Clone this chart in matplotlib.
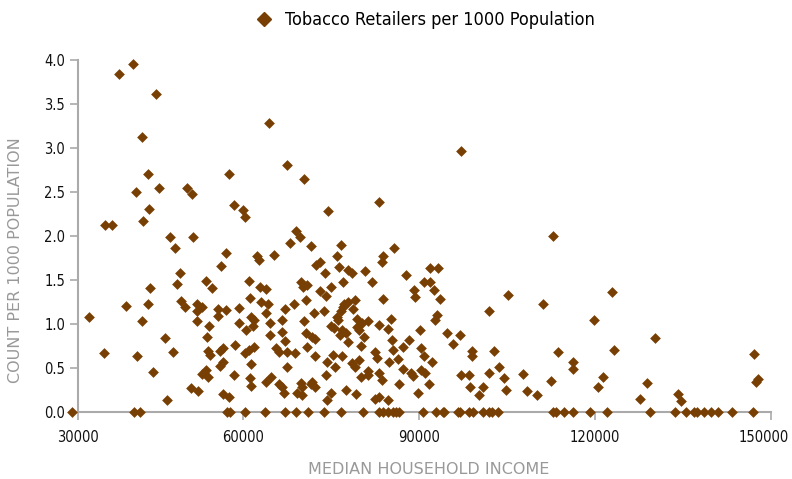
import matplotlib
matplotlib.use("Agg")
import matplotlib.pyplot as plt
from matplotlib.lines import Line2D
from matplotlib.transforms import ScaledTranslation

# median household income vs retailers per 1000
income = [38970, 41300, 45290, 42900, 43870, 57700, 64470, 67600, 41870, 45680,
          44090, 42950, 50580, 51380, 58490, 60100, 60370, 36580, 37720,
          47680, 51550, 48410, 57240, 49270, 48750, 56270, 53770, 54850, 61120,
          62370, 62830, 62930, 63900, 44210, 43920, 40160, 33890, 42780, 49560,
          50240, 52240, 53090, 52240, 52240, 54220, 53950, 55880, 57120, 55760,
          59340, 59340, 61220, 61340, 61910, 61800, 60490, 63050, 63900, 64640,
          46700, 36460, 48070, 41990, 44660, 47110, 51210, 52340, 54120, 54510,
          56100, 56680, 53780, 53090, 54050, 56220, 56680, 58780, 58490, 56680,
          57760, 60370, 61050, 61910, 61340, 61220, 61460, 63900, 64640, 64240,
          64760,
          70510, 74490, 83200, 97210, 69030, 69760, 68050, 71710, 76710, 76030,
          65390, 85710, 83830, 83660, 72560, 73180, 74030, 76420, 77960, 78710,
          80810, 77170, 81990, 87820, 69960, 70270, 71030, 73180, 75000, 74270,
          68810, 70780, 67270, 72150, 73860, 77170, 76710, 77960, 77280, 79160,
          78880, 76030, 76260, 75570, 75000, 77000, 77570, 76600, 78030, 79560,
          80300, 81270, 79840, 79450, 80700, 80130, 83150, 84790, 85250, 85430,
          70450, 70730, 71880, 72270, 71030, 66760, 66760, 67200, 65610, 66170,
          67490, 68910, 67490, 72320, 75470, 77000, 74320, 75740, 78710, 79160,
          79840, 82570, 82800, 85540, 86400, 84860, 87250, 88280, 90380, 90940,
          92260, 90150, 94770, 95790, 97090, 99040, 99040, 102800, 102040, 105190,
          92770, 93110, 93630, 92650, 91970, 90940, 91970, 93230, 89130, 89400,
          83940, 69880, 70170, 69320, 70170, 71590, 72320, 71880, 66170, 66760,
          67030, 74440, 75000, 74270, 77570, 79280, 80130, 81270, 81270, 82570,
          83250, 84790, 83250, 83710, 86670, 88670, 89060, 89820, 90380, 91110,
          91800, 97210, 98630, 98800, 100340, 100910, 102040, 103750, 104600, 104780,
          107750, 108430, 87250,
          112870, 122950, 119880, 130230, 113720, 123170, 116290, 116290, 112580, 121410,
          120560, 128800, 127670, 134100, 134670, 147040, 147430, 147710, 111080, 110200]

retailers = [3.84, 3.96, 3.62, 3.12, 2.70, 2.70, 3.28, 2.81, 2.50, 2.54,
             2.31, 2.17, 2.55, 2.48, 2.35, 2.29, 2.21, 2.12, 2.12,
             1.99, 1.99, 1.86, 1.80, 1.58, 1.45, 1.66, 1.49, 1.41, 1.49,
             1.77, 1.73, 1.42, 1.40, 1.41, 1.23, 1.20, 1.08, 1.03, 1.26,
             1.19, 1.23, 1.19, 1.14, 1.03, 0.97, 0.85, 1.17, 1.16, 1.09,
             1.18, 1.01, 1.29, 1.08, 1.04, 0.98, 0.93, 1.25, 1.12, 1.01,
             0.84, 0.67, 0.68, 0.63, 0.45, 0.13, 0.27, 0.23, 0.69, 0.64,
             0.69, 0.72, 0.47, 0.43, 0.40, 0.52, 0.57, 0.76, 0.42, 0.20,
             0.17, 0.67, 0.70, 0.74, 0.54, 0.38, 0.29, 0.34, 0.87, 1.23,
             0.39,
             2.65, 2.28, 2.39, 2.97, 2.06, 1.99, 1.92, 1.88, 1.90, 1.77,
             1.78, 1.86, 1.77, 1.70, 1.67, 1.70, 1.58, 1.65, 1.61, 1.58,
             1.60, 1.47, 1.47, 1.55, 1.48, 1.42, 1.44, 1.37, 1.42, 1.32,
             1.23, 1.27, 1.17, 1.12, 1.15, 1.19, 1.14, 1.25, 1.23, 1.27,
             1.17, 1.08, 1.04, 0.95, 0.98, 0.93, 0.89, 0.87, 0.79, 1.06,
             1.01, 1.03, 0.93, 0.96, 0.85, 0.75, 0.99, 0.94, 1.06, 0.82,
             1.03, 0.89, 0.85, 0.83, 0.74, 1.04, 0.91, 0.81, 0.72, 0.68,
             0.68, 0.67, 0.51, 0.63, 0.65, 0.63, 0.57, 0.51, 0.55, 0.51,
             0.59, 0.68, 0.61, 0.70, 0.60, 0.57, 0.74, 0.82, 0.72, 0.63,
             0.56, 0.93, 0.90, 0.77, 0.87, 0.69, 0.63, 0.69, 1.15, 1.33,
             1.04, 1.10, 1.28, 1.38, 1.48, 1.48, 1.63, 1.63, 1.39, 1.31,
             1.28, 0.33, 0.28, 0.21, 0.19, 0.32, 0.28, 0.34, 0.32, 0.28,
             0.21, 0.13, 0.21, 0.42, 0.25, 0.20, 0.40, 0.42, 0.46, 0.15,
             0.17, 0.13, 0.44, 0.36, 0.32, 0.44, 0.41, 0.21, 0.48, 0.44,
             0.31, 0.42, 0.42, 0.28, 0.19, 0.28, 0.44, 0.51, 0.38, 0.25,
             0.43, 0.24, 0.49,
             2.00, 1.36, 1.04, 0.84, 0.68, 0.70, 0.56, 0.49, 0.35, 0.40,
             0.28, 0.33, 0.14, 0.20, 0.12, 0.66, 0.34, 0.37, 1.23, 0.19]

# places with no retailer at all
zero_income = [30890, 41410, 42430, 57360, 57810, 60370, 63780, 67180, 69030, 71200,
               73860, 76710, 80420, 83250, 83830, 84690, 85540, 86110, 86670, 90670,
               92940, 94090, 94370, 96650, 97090, 98630, 99210, 100910, 102040, 102500,
               103470, 112870, 113440, 114680, 116290, 119120, 122100, 129370, 133640, 135470,
               136950, 137350, 138670, 139790, 141050, 143380, 146910]

xticks = [30000, 60000, 90000, 120000, 150000]
yticks = [0.0, 0.5, 1.0, 1.5, 2.0, 2.5, 3.0, 3.5, 4.0]

brown = '#783f04'
axis_grey = '#aaaaaa'
narrow = ['Liberation Sans Narrow', 'DejaVu Sans']

x_all = income + zero_income
y_all = retailers + [0.0] * len(zero_income)

fig = plt.figure(figsize=(7.92, 4.79), dpi=100)
ax = fig.add_axes([0.084, 0.1405, 0.8895, 0.734])

ax.scatter(x_all, y_all, marker='D', s=30, color=brown, linewidths=0,
           zorder=3, clip_on=False)

ax.set_xlim(30000, 150000)
ax.set_ylim(0, 4.0)

# axis starts a little right of 30000 in the original
axis_start = 31900
ax.spines['left'].set_position(('data', axis_start))
ax.spines['bottom'].set_bounds(axis_start, 150000)
for side in ['top', 'right']:
    ax.spines[side].set_visible(False)
for side in ['left', 'bottom']:
    ax.spines[side].set_color(axis_grey)
    ax.spines[side].set_linewidth(1.5)

ax.set_xticks([axis_start] + xticks[1:])
ax.set_xticklabels([str(v) for v in xticks], family=narrow, stretch='condensed',
                   fontsize=10.5)
ax.set_yticks(yticks)
ax.set_yticklabels(['%.1f' % v for v in yticks], family=narrow, stretch='condensed',
                   fontsize=10.5)
ax.tick_params(axis='both', colors=axis_grey, labelcolor='#111111',
               length=6, width=1.2)
ax.tick_params(axis='x', pad=7)
ax.tick_params(axis='y', pad=3)

# last label sits a bit left so it stays inside the picture
last = ax.get_xticklabels()[-1]
last.set_transform(last.get_transform() + ScaledTranslation(-5 / 72, 0, fig.dpi_scale_trans))

ax.set_xlabel('MEDIAN HOUSEHOLD INCOME', fontsize=11.5, color='#999999')
ax.set_ylabel('COUNT PER 1000 POPULATION', fontsize=11.5, color='#999999')
ax.xaxis.set_label_coords(0.5146, -0.143)
ax.yaxis.set_label_coords(-0.062, 0.43)

handle = Line2D([], [], marker='D', color=brown, linestyle='none', markersize=7)
fig.legend([handle], ['Tobacco Retailers per 1000 Population'], loc='upper center',
           bbox_to_anchor=(0.531, 1.01), frameon=False, handletextpad=0.2,
           prop={'family': narrow, 'stretch': 'condensed', 'size': 13})

fig.savefig('out.png', dpi=100)
